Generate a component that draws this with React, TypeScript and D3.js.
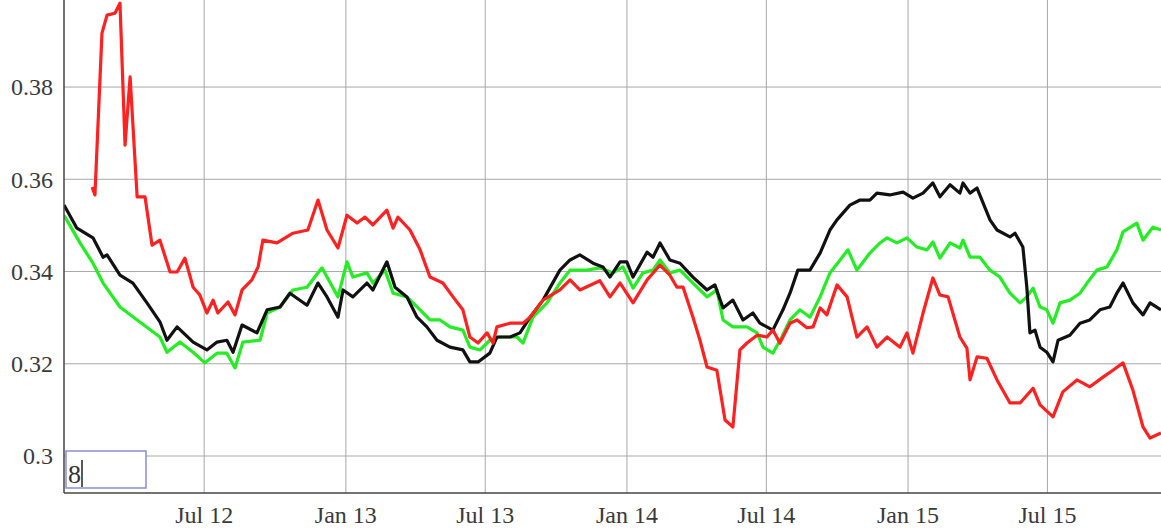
import React from "react";
import * as d3 from "d3";

// time values are decimal years
const blackSeries: [number, number][] = [
  [2012.000,0.3544],[2012.046,0.3494],[2012.103,0.3473],[2012.139,0.3431],[2012.153,0.3436],[2012.199,0.3392],[2012.245,0.3375],[2012.295,0.3332],[2012.341,0.3291],[2012.366,0.3251],[2012.402,0.3280],[2012.459,0.3247],[2012.508,0.3230],[2012.544,0.3247],[2012.579,0.3251],[2012.601,0.3225],[2012.633,0.3284],[2012.686,0.3267],[2012.722,0.3317],[2012.768,0.3323],[2012.803,0.3353],[2012.864,0.3327],[2012.903,0.3375],[2012.935,0.3345],[2012.974,0.3301],[2012.992,0.3360],[2013.027,0.3345],[2013.077,0.3375],[2013.098,0.3360],[2013.148,0.3421],[2013.177,0.3366],[2013.219,0.3345],[2013.255,0.3301],[2013.290,0.3280],[2013.326,0.3251],[2013.372,0.3236],[2013.418,0.3230],[2013.443,0.3204],[2013.472,0.3204],[2013.514,0.3223],[2013.539,0.3258],[2013.586,0.3258],[2013.621,0.3267],[2013.657,0.3301],[2013.703,0.3338],[2013.763,0.3403],[2013.799,0.3425],[2013.834,0.3436],[2013.881,0.3418],[2013.916,0.3410],[2013.941,0.3388],[2013.977,0.3421],[2014.001,0.3421],[2014.023,0.3388],[2014.073,0.3442],[2014.094,0.3431],[2014.119,0.3462],[2014.154,0.3425],[2014.190,0.3418],[2014.236,0.3388],[2014.286,0.3360],[2014.314,0.3371],[2014.343,0.3321],[2014.378,0.3338],[2014.414,0.3295],[2014.449,0.3310],[2014.474,0.3288],[2014.520,0.3273],[2014.556,0.3317],[2014.581,0.3353],[2014.609,0.3403],[2014.652,0.3403],[2014.688,0.3440],[2014.723,0.3490],[2014.748,0.3512],[2014.794,0.3544],[2014.830,0.3555],[2014.865,0.3555],[2014.890,0.3570],[2014.936,0.3566],[2014.983,0.3572],[2015.018,0.3559],[2015.054,0.3570],[2015.089,0.3592],[2015.114,0.3562],[2015.150,0.3588],[2015.185,0.3570],[2015.196,0.3592],[2015.221,0.3570],[2015.246,0.3581],[2015.292,0.3512],[2015.317,0.3490],[2015.363,0.3475],[2015.381,0.3483],[2015.409,0.3453],[2015.423,0.3366],[2015.434,0.3267],[2015.452,0.3273],[2015.470,0.3236],[2015.494,0.3225],[2015.516,0.3204],[2015.534,0.3251],[2015.576,0.3262],[2015.612,0.3288],[2015.647,0.3295],[2015.683,0.3317],[2015.718,0.3323],[2015.743,0.3353],[2015.765,0.3375],[2015.800,0.3332],[2015.836,0.3306],[2015.861,0.3332],[2015.900,0.3317]
];

const greenSeries: [number, number][] = [
  [2012.000,0.3522],[2012.057,0.3462],[2012.103,0.3418],[2012.139,0.3375],[2012.199,0.3323],[2012.260,0.3295],[2012.341,0.3258],[2012.366,0.3225],[2012.412,0.3247],[2012.459,0.3225],[2012.501,0.3202],[2012.544,0.3223],[2012.579,0.3223],[2012.608,0.3191],[2012.636,0.3247],[2012.697,0.3251],[2012.722,0.3310],[2012.768,0.3323],[2012.814,0.3360],[2012.864,0.3366],[2012.917,0.3408],[2012.935,0.3388],[2012.974,0.3345],[2013.006,0.3421],[2013.027,0.3388],[2013.077,0.3397],[2013.098,0.3375],[2013.141,0.3403],[2013.170,0.3353],[2013.219,0.3345],[2013.266,0.3317],[2013.301,0.3295],[2013.337,0.3295],[2013.372,0.3280],[2013.418,0.3273],[2013.443,0.3236],[2013.479,0.3230],[2013.514,0.3251],[2013.550,0.3258],[2013.610,0.3258],[2013.632,0.3245],[2013.667,0.3301],[2013.717,0.3332],[2013.763,0.3375],[2013.799,0.3403],[2013.859,0.3403],[2013.905,0.3408],[2013.952,0.3397],[2013.987,0.3410],[2014.023,0.3364],[2014.058,0.3397],[2014.094,0.3403],[2014.119,0.3425],[2014.154,0.3397],[2014.190,0.3403],[2014.236,0.3375],[2014.286,0.3345],[2014.321,0.3360],[2014.343,0.3295],[2014.378,0.3280],[2014.428,0.3280],[2014.464,0.3267],[2014.485,0.3236],[2014.520,0.3223],[2014.552,0.3258],[2014.581,0.3295],[2014.616,0.3317],[2014.652,0.3301],[2014.688,0.3345],[2014.723,0.3397],[2014.759,0.3425],[2014.787,0.3447],[2014.819,0.3403],[2014.865,0.3440],[2014.901,0.3462],[2014.926,0.3473],[2014.961,0.3462],[2014.997,0.3473],[2015.032,0.3453],[2015.068,0.3447],[2015.089,0.3464],[2015.114,0.3429],[2015.150,0.3462],[2015.185,0.3451],[2015.196,0.3468],[2015.221,0.3431],[2015.256,0.3431],[2015.292,0.3403],[2015.327,0.3388],[2015.363,0.3353],[2015.399,0.3332],[2015.423,0.3345],[2015.445,0.3364],[2015.470,0.3323],[2015.494,0.3317],[2015.516,0.3288],[2015.541,0.3332],[2015.576,0.3338],[2015.612,0.3353],[2015.637,0.3375],[2015.672,0.3403],[2015.708,0.3410],[2015.743,0.3447],[2015.765,0.3486],[2015.814,0.3505],[2015.836,0.3468],[2015.871,0.3496],[2015.900,0.3490]
];

const redSeries: [number, number][] = [
  [2012.100,0.3583],[2012.110,0.3566],[2012.135,0.3917],[2012.153,0.3956],[2012.181,0.3960],[2012.199,0.3982],[2012.217,0.3674],[2012.235,0.3822],[2012.260,0.3562],[2012.288,0.3562],[2012.313,0.3457],[2012.341,0.3468],[2012.377,0.3399],[2012.402,0.3399],[2012.430,0.3429],[2012.459,0.3366],[2012.483,0.3349],[2012.508,0.3310],[2012.530,0.3338],[2012.547,0.3310],[2012.583,0.3334],[2012.608,0.3306],[2012.633,0.3360],[2012.668,0.3382],[2012.690,0.3410],[2012.707,0.3468],[2012.757,0.3462],[2012.814,0.3483],[2012.867,0.3490],[2012.903,0.3555],[2012.935,0.3490],[2012.974,0.3451],[2013.006,0.3522],[2013.042,0.3505],[2013.070,0.3518],[2013.098,0.3501],[2013.148,0.3533],[2013.170,0.3494],[2013.187,0.3518],[2013.230,0.3490],[2013.266,0.3447],[2013.301,0.3388],[2013.347,0.3375],[2013.383,0.3345],[2013.418,0.3317],[2013.443,0.3258],[2013.472,0.3245],[2013.504,0.3267],[2013.525,0.3245],[2013.539,0.3280],[2013.586,0.3288],[2013.632,0.3288],[2013.657,0.3301],[2013.703,0.3338],[2013.763,0.3360],[2013.799,0.3382],[2013.834,0.3360],[2013.905,0.3380],[2013.941,0.3345],[2013.977,0.3375],[2014.023,0.3332],[2014.073,0.3382],[2014.119,0.3414],[2014.154,0.3392],[2014.179,0.3366],[2014.201,0.3366],[2014.236,0.3301],[2014.261,0.3251],[2014.286,0.3193],[2014.321,0.3186],[2014.350,0.3078],[2014.378,0.3063],[2014.403,0.3230],[2014.428,0.3245],[2014.464,0.3262],[2014.499,0.3258],[2014.520,0.3273],[2014.545,0.3245],[2014.581,0.3288],[2014.606,0.3295],[2014.641,0.3278],[2014.663,0.3280],[2014.688,0.3321],[2014.712,0.3306],[2014.748,0.3371],[2014.784,0.3345],[2014.819,0.3258],[2014.855,0.3280],[2014.890,0.3236],[2014.926,0.3258],[2014.972,0.3236],[2014.997,0.3267],[2015.018,0.3223],[2015.054,0.3310],[2015.089,0.3386],[2015.114,0.3349],[2015.143,0.3345],[2015.185,0.3258],[2015.210,0.3234],[2015.221,0.3165],[2015.246,0.3215],[2015.281,0.3212],[2015.317,0.3165],[2015.363,0.3115],[2015.399,0.3115],[2015.445,0.3147],[2015.470,0.3111],[2015.516,0.3085],[2015.551,0.3139],[2015.601,0.3165],[2015.647,0.3150],[2015.694,0.3171],[2015.729,0.3186],[2015.765,0.3202],[2015.800,0.3143],[2015.836,0.3063],[2015.861,0.3039],[2015.900,0.3050]
];

const xTickDates = ["2012-07-01", "2013-01-01", "2013-07-01", "2014-01-01", "2014-07-01", "2015-01-01", "2015-07-01"];
const xTickLabels = ["Jul 12", "Jan 13", "Jul 13", "Jan 14", "Jul 14", "Jan 15", "Jul 15"];
const yTickValues = [0.30, 0.32, 0.34, 0.36, 0.38];
const yTickLabels = ["0.3", "0.32", "0.34", "0.36", "0.38"];
const inputText = "8";

const W = 1161;
const H = 529;
const M = { left: 64, top: 0, right: 0, bottom: 36 };
const START = Date.UTC(2012, 0, 1);
const YEAR_MS = 365.25 * 86400000;
const toDate = (t: number) => new Date(START + (t - 2012) * YEAR_MS);

export default function App() {
  const x = d3.scaleTime().domain([toDate(2012), toDate(2015.9)]).range([M.left, W - M.right]);
  const y = d3.scaleLinear().domain([0.29198, 0.39887]).range([H - M.bottom, M.top]);
  const line = d3
    .line<[number, number]>()
    .x((d) => x(toDate(d[0])))
    .y((d) => y(d[1]))
    .curve(d3.curveLinear);
  const bottom = H - M.bottom;
  const font = "'Liberation Serif', 'Times New Roman', serif";
  const series = [
    { data: greenSeries, color: "#22ee22" },
    { data: blackSeries, color: "#111111" },
    { data: redSeries, color: "#ff2020" },
  ];
  return (
    <svg width={W} height={H} style={{ position: "absolute", left: 0, top: 0, background: "#fff" }}>
      <defs>
        <clipPath id="plotClip">
          <rect x={M.left} y={0} width={W - M.left} height={bottom} />
        </clipPath>
      </defs>
      {yTickValues.map((v, i) => (
        <g key={"y" + i}>
          <line x1={M.left} x2={W} y1={y(v)} y2={y(v)} stroke="#a8a8a8" strokeWidth={1} />
          <text x={53} y={y(v)} dy="0.35em" textAnchor="end" fontFamily={font} fontSize={24} fill="#3a3a3a">
            {yTickLabels[i]}
          </text>
        </g>
      ))}
      {xTickDates.map((d, i) => {
        const xp = x(new Date(d + "T00:00:00Z"));
        return (
          <g key={"x" + i}>
            <line x1={xp} x2={xp} y1={0} y2={bottom} stroke="#a8a8a8" strokeWidth={1} />
            <text x={xp} y={bottom + 30} textAnchor="middle" fontFamily={font} fontSize={24} fill="#3a3a3a">
              {xTickLabels[i]}
            </text>
          </g>
        );
      })}
      <g clipPath="url(#plotClip)">
        {series.map((s, i) => (
          <path key={i} d={line(s.data) || ""} fill="none" stroke={s.color} strokeWidth={3.2} strokeLinejoin="round" />
        ))}
      </g>
      <line x1={M.left} x2={M.left} y1={0} y2={bottom} stroke="#444" strokeWidth={1.5} />
      <line x1={M.left} x2={W} y1={bottom} y2={bottom} stroke="#444" strokeWidth={1.5} />
      <rect x={66} y={451} width={80} height={37} fill="#fff" stroke="#8a8ad8" strokeWidth={1.5} />
      <text x={68} y={483} fontFamily={font} fontSize={26} fill="#333">{inputText}</text>
      <line x1={82} x2={82} y1={460} y2={487} stroke="#222" strokeWidth={1.5} />
    </svg>
  );
}
